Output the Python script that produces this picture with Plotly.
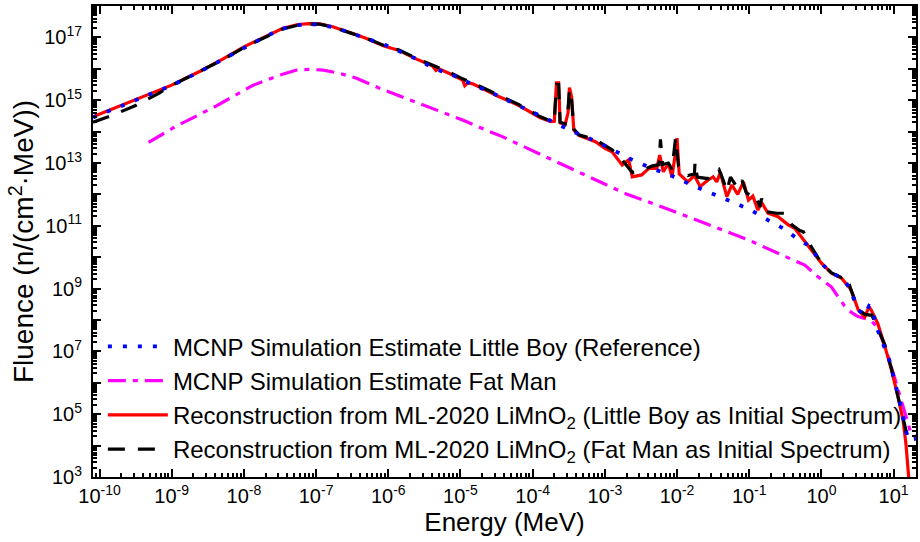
import plotly.graph_objects as go

mcnp_lb_logE = [-10.09, -9.70, -9.32, -9.00, -8.60, -8.30, -8.00, -7.70, -7.46, -7.25,
                -7.10, -6.95, -6.72, -6.44, -6.02, -5.60, -5.34, -5.16, -4.97, -4.83,
                -4.47, -4.20, -3.94, -3.66, -3.41, -3.13, -2.88, -2.62, -2.35, -2.07,
                -1.80, -1.53, -1.27, -1.00, -0.74, -0.53, -0.34, -0.15, -0.01, 0.14,
                0.30, 0.39, 0.51, 0.60, 0.66, 0.70, 0.76, 0.94, 1.01, 1.08, 1.20, 1.31]
mcnp_lb_logF = [14.45, 14.82, 15.15, 15.47, 15.92, 16.29, 16.69, 17.03, 17.28, 17.39,
                17.42, 17.41, 17.30, 17.07, 16.74, 16.30, 15.98, 15.86, 15.64, 15.50,
                15.13, 14.83, 14.55, 14.26, 13.97, 13.70, 13.41, 13.10, 12.83, 12.59,
                12.30, 12.03, 11.77, 11.53, 11.18, 10.92, 10.60, 10.33, 9.82, 9.49,
                9.33, 9.01, 8.32, 8.15, 8.45, 8.40, 7.79, 6.73, 6.09, 5.45, 4.18, 4.22]

mcnp_fm_logE = [-9.32, -8.93, -8.38, -7.87, -7.50, -7.27, -7.09, -6.90, -6.68, -6.44,
                -6.12, -5.75, -5.39, -4.97, -4.65, -4.42, -3.87, -3.32, -2.72, -2.16,
                -1.61, -1.01, -0.55, -0.23, -0.05, 0.14, 0.23, 0.32, 0.41, 0.50,
                0.60, 0.70, 0.78, 0.88, 1.01, 1.15, 1.24, 1.31]
mcnp_fm_logF = [13.66, 14.18, 14.82, 15.48, 15.80, 15.96, 15.98, 15.96, 15.86, 15.70,
                15.38, 15.06, 14.74, 14.37, 14.05, 13.84, 13.25, 12.67, 12.03, 11.56,
                11.08, 10.55, 10.07, 9.75, 9.38, 9.05, 8.74, 8.45, 8.25, 8.12,
                8.05, 7.95, 7.75, 7.15, 6.19, 5.13, 4.39, 4.28]

rec_lb_logE = [-10.09, -9.70, -9.32, -9.00, -8.60, -8.30, -8.00, -7.70, -7.46, -7.25,
               -7.10, -6.95, -6.77, -6.50, -6.31, -6.05, -5.85, -5.60, -5.39, -5.34,
               -5.30, -5.16, -4.97, -4.94, -4.90, -4.83, -4.60, -4.47, -4.19, -3.90,
               -3.75, -3.70, -3.67, -3.64, -3.62, -3.55, -3.51, -3.49, -3.46, -3.43,
               -3.36, -3.13, -3.00, -2.90, -2.76, -2.67, -2.62, -2.49, -2.39, -2.28,
               -2.24, -2.19, -2.12, -2.07, -2.03, -2.00, -1.97, -1.85, -1.76, -1.68,
               -1.57, -1.50, -1.45, -1.40, -1.36, -1.31, -1.24, -1.16, -1.08, -1.01,
               -0.95, -0.88, -0.83, -0.74, -0.60, -0.46, -0.37, -0.25, -0.16, 0.00,
               0.14, 0.28, 0.41, 0.51, 0.60, 0.66, 0.69, 0.74, 0.78, 0.88,
               0.97, 1.06, 1.13, 1.17, 1.21, 1.23]
rec_lb_logF = [14.47, 14.83, 15.17, 15.48, 15.93, 16.30, 16.70, 17.04, 17.29, 17.41,
               17.44, 17.43, 17.34, 17.13, 16.97, 16.72, 16.58, 16.30, 16.10, 15.95,
               16.00, 15.86, 15.64, 15.46, 15.55, 15.52, 15.26, 15.12, 14.83, 14.45,
               14.32, 14.33, 15.55, 15.55, 14.28, 14.22, 14.60, 15.40, 15.10, 14.05,
               13.88, 13.68, 13.47, 13.36, 12.94, 13.10, 12.56, 12.62, 12.83, 12.83,
               13.25, 12.72, 12.99, 12.56, 13.20, 13.79, 12.65, 12.40, 12.60, 12.25,
               12.46, 12.56, 12.40, 12.70, 12.35, 11.93, 12.30, 12.00, 12.40, 11.82,
               11.95, 11.50, 11.75, 11.40, 11.29, 11.03, 10.92, 10.55, 10.28, 9.81,
               9.49, 9.33, 8.96, 8.32, 8.10, 8.42, 8.32, 8.05, 7.89, 7.15,
               6.41, 5.56, 4.82, 4.07, 3.00, 2.40]

rec_fm_logE = [-10.09, -9.81, -9.50, -9.18, -9.00, -8.60, -8.30, -8.00, -7.70, -7.46,
               -7.25, -7.10, -6.95, -6.77, -6.50, -6.31, -6.05, -5.85, -5.60, -5.39,
               -5.16, -4.97, -4.83, -4.60, -4.47, -4.19, -3.90, -3.75, -3.70, -3.67,
               -3.64, -3.62, -3.55, -3.51, -3.49, -3.46, -3.43, -3.36, -3.13, -2.90,
               -2.76, -2.62, -2.49, -2.35, -2.25, -2.23, -2.20, -2.12, -2.07, -2.02,
               -1.98, -1.85, -1.76, -1.75, -1.72, -1.57, -1.50, -1.42, -1.36, -1.31,
               -1.26, -1.16, -1.10, -1.04, -0.97, -0.92, -0.85, -0.83, -0.76, -0.62,
               -0.51, -0.41, -0.30, -0.25, -0.14, 0.00, 0.14, 0.28, 0.35, 0.41,
               0.51, 0.60, 0.70, 0.76, 0.88, 0.97, 1.06, 1.13, 1.20, 1.31]
rec_fm_logF = [14.30, 14.53, 14.83, 15.22, 15.47, 15.92, 16.28, 16.68, 17.02, 17.27,
               17.39, 17.42, 17.42, 17.33, 17.12, 16.98, 16.73, 16.60, 16.32, 16.12,
               15.90, 15.68, 15.55, 15.30, 15.16, 14.86, 14.48, 14.34, 14.35, 15.50,
               15.50, 14.30, 14.25, 14.70, 15.35, 15.00, 14.08, 13.90, 13.74, 13.42,
               13.10, 12.70, 12.75, 12.90, 12.95, 13.75, 12.95, 13.00, 12.80, 13.80,
               12.90, 12.60, 12.65, 13.04, 12.55, 12.50, 12.70, 12.80, 12.45, 12.10,
               12.55, 12.20, 12.45, 12.05, 11.95, 12.00, 11.60, 11.87, 11.45, 11.40,
               11.40, 11.03, 10.85, 10.81, 10.33, 9.81, 9.50, 9.35, 9.40, 8.96,
               8.35, 8.18, 8.15, 7.85, 7.20, 6.45, 5.60, 4.85, 4.20, 4.25]

x_decades = list(range(-10, 2))
y_decades = list(range(3, 19))
x_range_log = [-10.09, 1.31]
y_range_log = [3, 18]

FONT = "Arial, Liberation Sans, sans-serif"


def pw(vals):
    return [10 ** v for v in vals]


fig = go.Figure()

series = [
    # (name, logE, logF, colour, dash, width, legend order)
    ("MCNP Simulation Estimate Fat Man", mcnp_fm_logE, mcnp_fm_logF,
     "#ff00ff", "18px,7px,5px,7px", 3.2, 2),
    ("Reconstruction from ML-2020 LiMnO<sub>2</sub> (Little Boy as Initial Spectrum)",
     rec_lb_logE, rec_lb_logF, "#ff0000", "solid", 3.2, 3),
    ("Reconstruction from ML-2020 LiMnO<sub>2</sub> (Fat Man as Initial Spectrum)",
     rec_fm_logE, rec_fm_logF, "#000000", "17px,13px", 3.2, 4),
    ("MCNP Simulation Estimate Little Boy (Reference)", mcnp_lb_logE, mcnp_lb_logF,
     "#0000ff", "4px,11px", 3.8, 1),
]

for name, le, lf, col, dash, lw, rank in series:
    fig.add_trace(go.Scatter(
        x=pw(le), y=pw(lf), mode="lines", name=name,
        line=dict(color=col, width=lw, dash=dash),
        legendrank=rank,
    ))

x_minor = [k * 10 ** d for d in range(-11, 2) for k in range(2, 10)]
y_minor = [k * 10 ** d for d in range(2, 18) for k in range(2, 10)]

axis_common = dict(
    type="log", showgrid=False, zeroline=False,
    showline=True, linecolor="black", linewidth=2, mirror="allticks",
    ticks="inside", ticklen=8, tickwidth=2, tickcolor="black",
    tickfont=dict(family=FONT, size=20, color="black"),
    tickmode="array",
    minor=dict(ticks="inside", ticklen=4, tickwidth=1.5, tickcolor="black",
               tickmode="array", showgrid=False),
)

fig.update_xaxes(
    **axis_common,
    range=x_range_log,
    tickvals=pw(x_decades),
    ticktext=[f"10<sup>{d}</sup>" for d in x_decades],
    title=dict(text="Energy (MeV)", font=dict(family=FONT, size=26, color="black"),
               standoff=6),
)
fig.update_xaxes(minor_tickvals=x_minor)

fig.update_yaxes(
    **axis_common,
    range=y_range_log,
    tickvals=pw(y_decades),
    ticktext=[f"10<sup>{d}</sup>" if d % 2 else "" for d in y_decades],
    ticklabelstandoff=5,
    title=dict(text="Fluence (n/(cm<sup>2</sup>·MeV))",
               font=dict(family=FONT, size=28, color="black"), standoff=2),
)
fig.update_yaxes(minor_tickvals=y_minor)

fig.update_layout(
    width=920, height=542,
    margin=dict(l=93, r=2, t=6, b=65),
    paper_bgcolor="white", plot_bgcolor="white",
    font=dict(family=FONT, color="black"),
    showlegend=True,
    legend=dict(
        x=0.012, y=0.012, xanchor="left", yanchor="bottom",
        bgcolor="rgba(0,0,0,0)", borderwidth=0,
        font=dict(family=FONT, size=24, color="black"),
        itemwidth=60, tracegroupgap=0,
    ),
)

fig.write_html("out.html")
